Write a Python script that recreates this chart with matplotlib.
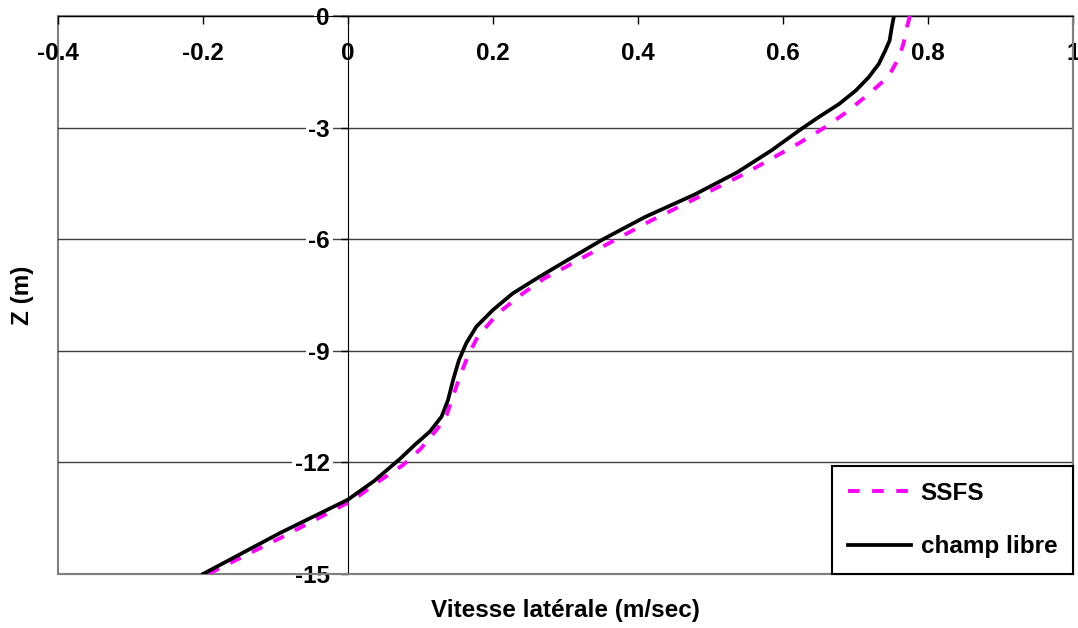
import matplotlib
matplotlib.use('Agg')
import matplotlib.pyplot as plt
from matplotlib.patches import Rectangle
from matplotlib.ticker import FuncFormatter

plt.rcParams['font.family'] = ['Liberation Sans', 'DejaVu Sans']
plt.rcParams['font.weight'] = 'bold'
plt.rcParams['axes.labelweight'] = 'bold'
plt.rcParams['axes.unicode_minus'] = False

# SSFS : profondeur (m) et vitesse latérale (m/sec)
z_ssfs = [0, -0.3, -0.75, -1.11, -1.47, -1.74, -2.1, -2.55, -2.99, -3.42, -4.22, -4.95,
          -5.5, -6.0, -6.74, -7.05, -7.46, -7.99, -8.62, -9.11, -9.7, -10.1, -10.73,
          -11.08, -11.62, -12.07, -12.5, -13.0, -14.0, -15.0]
v_ssfs = [0.775, 0.771, 0.766, 0.760, 0.750, 0.739, 0.718, 0.690, 0.658, 0.622, 0.549,
          0.475, 0.418, 0.370, 0.301, 0.271, 0.241, 0.207, 0.179, 0.166, 0.154, 0.147,
          0.136, 0.124, 0.101, 0.076, 0.043, 0.008, -0.090, -0.193]

# champ libre
z_libre = [0, -0.3, -0.66, -0.93, -1.29, -1.65, -2.01, -2.37, -2.72, -3.08, -3.6, -4.2,
           -4.8, -5.4, -6.0, -6.56, -7.01, -7.46, -7.9, -8.35, -8.8, -9.25, -9.78,
           -10.32, -10.77, -11.17, -11.53, -11.9, -12.5, -13.0, -13.9, -15.0]
v_libre = [0.753, 0.750, 0.747, 0.741, 0.732, 0.718, 0.700, 0.677, 0.649, 0.622, 0.585,
           0.537, 0.478, 0.410, 0.352, 0.303, 0.264, 0.227, 0.200, 0.177, 0.163, 0.153,
           0.145, 0.138, 0.129, 0.113, 0.092, 0.072, 0.036, 0.000, -0.094, -0.200]

xticks = [-0.4, -0.2, 0, 0.2, 0.4, 0.6, 0.8, 1]
yticks = [0, -3, -6, -9, -12, -15]

fig = plt.figure(figsize=(10.78, 6.28), dpi=100)
ax = fig.add_axes([0.0538, 0.086, 0.9416, 0.8885])

ax.plot(v_ssfs, z_ssfs, color='#FF00FF', lw=2.8, dashes=(3, 3.2), label='SSFS', zorder=3)
ax.plot(v_libre, z_libre, color='black', lw=2.7, label='champ libre', zorder=4,
        solid_joinstyle='round')

ax.set_xlim(-0.4, 1)
ax.set_ylim(-15, 0)
ax.set_xticks(xticks)
ax.set_yticks(yticks)
fmt = FuncFormatter(lambda v, p: '%g' % v)
ax.xaxis.set_major_formatter(fmt)
ax.yaxis.set_major_formatter(fmt)

# axe x en haut, axe y en x=0
ax.xaxis.tick_top()
ax.xaxis.set_label_position('bottom')
ax.tick_params(axis='x', direction='in', length=6, width=1, pad=-35, labelsize=17.5)
ax.tick_params(axis='y', direction='out', length=5, width=1, pad=8, labelsize=17.5)

ax.spines['left'].set_position(('data', 0))
ax.spines['left'].set_color('black')
ax.spines['top'].set_color('black')
ax.spines['right'].set_color('#808080')
ax.spines['bottom'].set_color('#808080')
ax.spines['right'].set_linewidth(1.5)
ax.spines['bottom'].set_linewidth(1.5)
ax.add_patch(Rectangle((0, 0), 1, 1, transform=ax.transAxes, fill=False,
                       edgecolor='#808080', lw=1.5, clip_on=False, zorder=0))

ax.yaxis.grid(True, color='#404040', lw=1)
ax.set_axisbelow(True)
for lab in ax.get_yticklabels():
    lab.set_bbox(dict(facecolor='white', edgecolor='none', pad=2))

ax.set_xlabel('Vitesse latérale (m/sec)', fontsize=17.5, labelpad=18)
ax.set_ylabel('Z (m)', fontsize=17.5)
ax.yaxis.set_label_coords(-0.024, 0.5)

leg = ax.legend(loc='lower right', bbox_to_anchor=(1, 0), borderaxespad=0,
                prop={'size': 17.5, 'weight': 'bold'}, fancybox=False, framealpha=1,
                edgecolor='black', borderpad=0.65, handlelength=2.6, handletextpad=0.4,
                labelspacing=1.25)
leg.get_frame().set_linewidth(1.5)

fig.savefig('out.png', dpi=100)
